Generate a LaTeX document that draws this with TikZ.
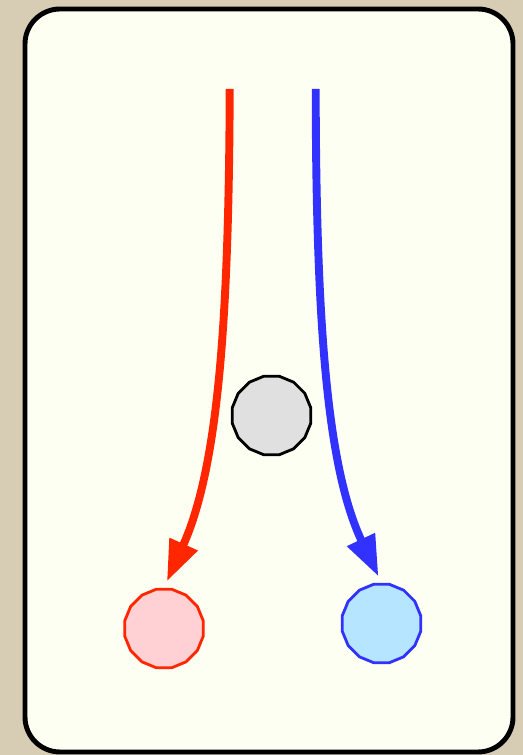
\documentclass[tikz,border=0pt]{standalone}
\usepackage{xcolor}
\usepackage{tikz}
\usetikzlibrary{positioning,shapes.geometric,arrows.meta}

\definecolor{paper}{RGB}{214,205,180}
\definecolor{card}{RGB}{253,255,242}
\definecolor{rline}{RGB}{255,38,0}
\definecolor{rfill}{RGB}{255,208,212}
\definecolor{bline}{RGB}{50,50,255}
\definecolor{bfill}{RGB}{182,230,255}
\definecolor{gfill}{RGB}{224,224,224}

\begin{document}
\begin{tikzpicture}[
    ball/.style={regular polygon, regular polygon sides=16, inner sep=0pt, minimum size=1.6cm, line width=1.6pt},
    path/.style={line width=4.5pt, shorten >=0.14cm, -{Triangle[length=0.82cm, width=0.58cm]}}
  ]
    \useasboundingbox (0,0) rectangle (10.46,15.10);
    \fill[paper] (0,0) rectangle (10.46,15.10);
    \draw[fill=card, line width=2.8pt, rounded corners=0.7cm] (0.50,0.06) rectangle (10.26,14.92);

    % the three balls
    \node[ball, draw=black, fill=gfill] (mid) at (5.43,6.79) {};
    \node[ball, draw=rline, fill=rfill] (red) at (3.28,2.53) {};
    \node[ball, draw=bline, fill=bfill] (blue) at (7.63,2.63) {};

    % start points of the two paths
    \coordinate (rstart) at (4.594,13.32);
    \coordinate (bstart) at (6.314,13.32);

    \draw[path, rline] (rstart) .. controls (4.58,8.50) and (4.34,5.70) .. (red.90);
    \draw[path, bline] (bstart) .. controls (6.32,8.50) and (6.56,5.70) .. (blue.90);
\end{tikzpicture}
\end{document}
